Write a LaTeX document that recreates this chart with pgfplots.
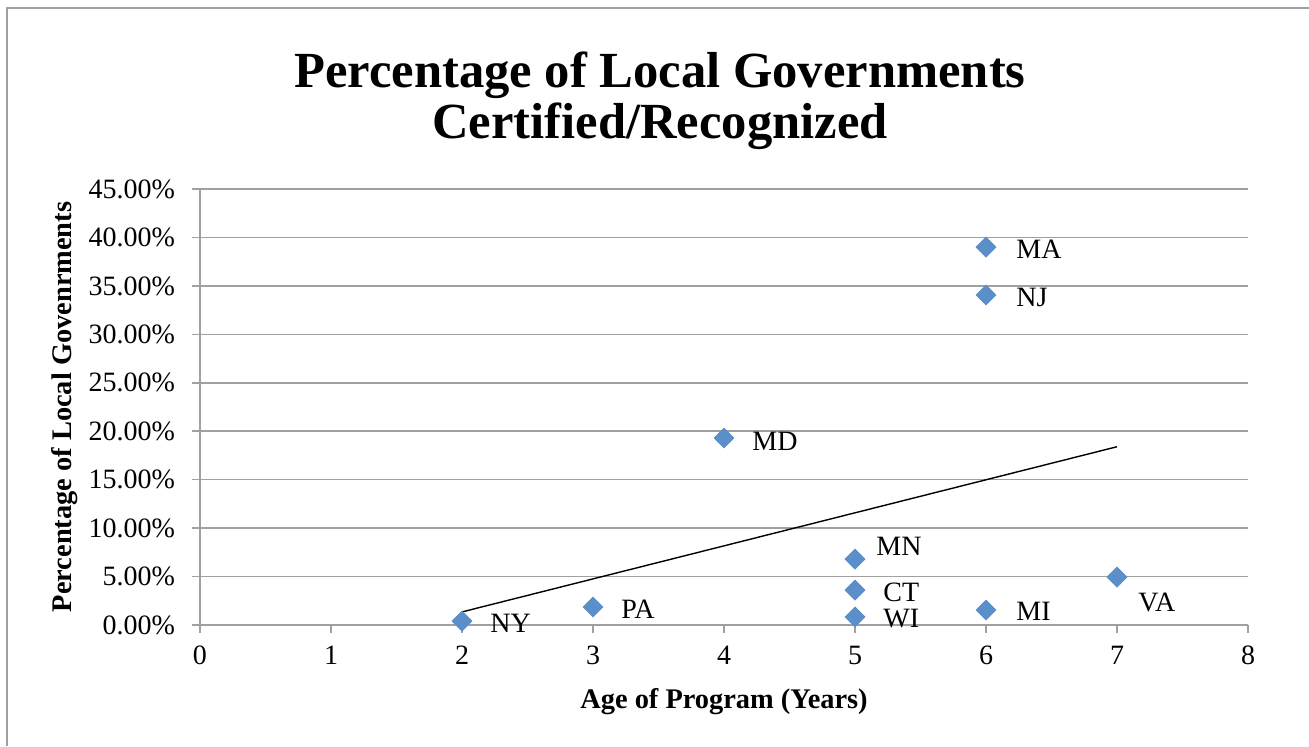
\documentclass[border=0pt]{standalone}
\usepackage{fontspec}
\setmainfont{Liberation Serif}
\usepackage{pgfplots}
\usepackage{pgfplotstable}
\pgfplotsset{compat=1.18}
\definecolor{ptblue}{RGB}{91,143,201}
\definecolor{gridgray}{RGB}{160,160,160}
\pgfplotstableread{
x y lab dx dy
2 0.41 NY 14 -1
3 1.86 PA 14 -1
4 19.3 MD 14 -1.5
5 6.8 MN 10.5 6.5
5 3.6 CT 14 -1
5 0.83 WI 14 -1
6 39.0 MA 15 -1
6 34.06 NJ 15 -1
6 1.55 MI 15 -0.5
7 4.95 VA 10.5 -12.5
}\pts
\begin{document}
\begin{tikzpicture}
\useasboundingbox (-100pt,-60.5pt) rectangle (554.5pt,312.5pt);
\draw[gridgray, line width=1.2pt] (-96.5pt,-60.5pt) -- (-96.5pt,308.5pt) -- (554.5pt,308.5pt);
\begin{axis}[
  scale only axis,
  width=524pt, height=218pt,
  xmin=0, xmax=8, ymin=0, ymax=45,
  xtick={0,1,...,8}, ytick={0,5,...,45},
  axis x line*=bottom, axis y line*=left,
  axis line style={gridgray, line width=0.8pt},
  tick style={gridgray, line width=0.8pt},
  tick align=outside, major tick length=4pt,
  ymajorgrids, grid style={gridgray, line width=0.8pt},
  /pgf/number format/assume math mode=true,
  tick label style={font=\fontsize{14}{16}\selectfont},
  yticklabel={\pgfmathprintnumber[fixed,fixed zerofill,precision=2]{\tick}\%},
  yticklabel style={xshift=-5pt},
  xticklabel style={yshift=-3pt},
  xlabel={Age of Program (Years)},
  ylabel={Percentage of Local Govenrments},
  label style={font=\bfseries\fontsize{14.2}{16}\selectfont},
  xlabel style={at={(axis description cs:0.5,0)}, anchor=base, yshift=-41.5pt},
  ylabel style={at={(axis description cs:-0.1288,0.5)}, anchor=center},
  clip=false,
]
\addplot[black, line width=0.7pt] coordinates {(2,1.35) (7,18.4)};
\addplot[
  only marks, mark=square*, mark size=3.5pt,
  mark options={rotate=45, fill=ptblue, draw=ptblue},
  visualization depends on={\thisrow{dx} \as \dx},
  visualization depends on={\thisrow{dy} \as \dy},
  nodes near coords,
  point meta=explicit symbolic,
  every node near coord/.append style={anchor=west, xshift=\dx pt, yshift=\dy pt, font=\fontsize{14}{16}\selectfont, text=black, inner sep=0pt},
] table[x=x, y=y, meta=lab] {\pts};
\end{axis}
\node[anchor=base, font=\bfseries\fontsize{25.3}{30}\selectfont] at (230pt,269pt) {Percentage of Local Governments};
\node[anchor=base, font=\bfseries\fontsize{25.3}{30}\selectfont] at (230pt,243.5pt) {Certified/Recognized};
\end{tikzpicture}
\end{document}
